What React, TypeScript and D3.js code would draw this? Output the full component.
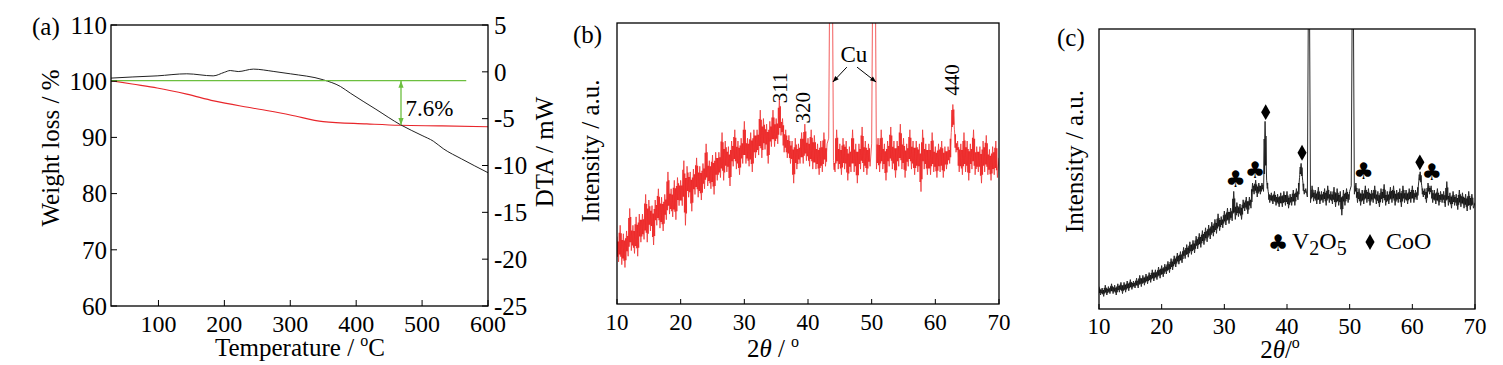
import React from 'react';
import * as d3 from 'd3';

const FONT = '"Liberation Serif", "Times New Roman", serif';

// (a) TG / DTA
const tgTemp = [28, 60, 98, 143, 184, 244, 300, 350, 416, 466, 530, 600];
const tgWeight = [100.1, 99.5, 98.8, 97.7, 96.5, 95.2, 94.0, 92.8, 92.4, 92.15, 92.05, 91.9];
const dtaTemp = [28, 60, 98, 143, 183, 200, 209, 221, 244, 274, 300, 350, 376, 391, 430, 467, 500, 517, 532, 560, 600];
const dtaValue = [-0.67, -0.55, -0.43, -0.21, -0.43, -0.05, 0.14, 0.03, 0.29, 0.05, -0.21, -0.85, -1.56, -2.27, -4.0, -5.64, -6.8, -7.4, -8.2, -9.3, -10.77];
const tempTicks = [100, 200, 300, 400, 500, 600];
const weightTicks = [60, 70, 80, 90, 100, 110];
const dtaTicks = [5, 0, -5, -10, -15, -20, -25];
const baselineWeight = 100.1;
const baselineEnd = 567;
const lossTemp = 468;
const lossWeight = 92.2;
const lossLabel = '7.6%';

// (b), (c) XRD, sampled from 10 to 70 deg every 0.25 deg
const xrdStart = 10;
const xrdStep = 0.25;
const thetaTicks = [10, 20, 30, 40, 50, 60, 70];

const xrdB = [
  24, 15, 28, 14, 25, 13, 26, 17, 34, 19, 28, 18, 31, 17, 32, 22, 32, 23, 39, 22,
  37, 26, 35, 21, 37, 28, 41, 27, 38, 26, 39, 30, 47, 32, 41, 31, 44, 30, 45, 35,
  44, 35, 51, 28, 49, 38, 47, 33, 48, 39, 52, 38, 49, 37, 50, 41, 57, 42, 51, 41,
  53, 39, 54, 44, 54, 45, 61, 44, 58, 47, 56, 42, 58, 49, 62, 48, 58, 46, 59, 50,
  65, 50, 59, 49, 61, 47, 62, 52, 62, 53, 69, 52, 66, 55, 64, 50, 65, 56, 69, 56,
  66, 57, 73, 60, 66, 54, 62, 52, 60, 50, 58, 43, 59, 48, 57, 50, 61, 50, 64, 51,
  59, 49, 62, 48, 60, 48, 57, 46, 58, 47, 61, 49, 57, 59, 150, 150, 51, 47, 62, 48,
  57, 46, 59, 48, 58, 44, 56, 47, 62, 47, 57, 43, 57, 48, 63, 47, 58, 46, 57, 49,
  57, 150, 150, 48, 59, 47, 62, 48, 57, 44, 58, 49, 63, 48, 58, 45, 58, 49, 64, 48,
  59, 45, 57, 49, 62, 48, 58, 46, 58, 47, 57, 40, 62, 48, 57, 46, 57, 46, 61, 47,
  56, 45, 57, 47, 58, 45, 56, 48, 56, 50, 61, 71, 62, 54, 58, 47, 57, 46, 61, 47,
  58, 44, 57, 48, 62, 46, 56, 47, 56, 43, 58, 47, 60, 46, 55, 44, 56, 46, 58, 45,
  52,
];

const xrdC = [
  8, 5, 7.5, 4.5, 8.5, 5, 8, 5.5, 9, 5.5, 8.5, 5, 9, 6, 9.5, 5.5, 9.5, 6, 10, 6.5,
  10.5, 7, 10, 7.5, 11, 7.5, 12, 8, 12, 8.5, 12.5, 9, 13, 9.5, 14, 10, 14, 10.5, 15, 11,
  15.5, 11.5, 16, 12.5, 17, 13, 18, 14, 19, 15, 20, 16, 20.5, 16.5, 22, 18, 23, 18.5, 24, 19.5,
  24.5, 20, 26, 21.5, 27, 22, 28, 23, 29, 24, 30, 25, 31, 26, 32, 27, 34, 28, 33, 29,
  35, 30, 36, 30.5, 36, 31.5, 42, 32, 38, 33, 37.5, 32, 39, 35, 40, 34, 40, 36, 45, 41,
  46, 40, 45, 41, 45, 42, 67, 46, 42, 38, 41.5, 37.5, 42, 37, 41, 36.5, 41.5, 36.5, 42, 37,
  42, 36, 41, 37, 42.5, 37, 43, 39, 47, 52, 46, 41, 43, 40, 150, 38, 44, 38.5, 42.5, 37.5,
  43.5, 37.5, 42, 38, 43, 37, 44, 38, 42, 37.5, 43.5, 36.5, 43, 37, 42, 33.5, 42.5, 37, 43, 38,
  42, 44, 150, 41, 45, 38, 43, 37, 42.5, 37.5, 44, 38, 43, 37, 42.5, 38, 44, 37.5, 42, 36.5,
  43, 38, 44.5, 37, 42, 37.5, 43.5, 38, 44, 37, 42.5, 38, 43, 36.5, 44, 38, 42.5, 37.5, 43, 38,
  44, 38, 42.5, 39, 45, 49, 44, 40, 43, 38, 45, 41, 44, 38, 42.5, 37.5, 43, 37, 42, 38,
  42, 36.5, 45.5, 37, 41.5, 36, 42, 37, 41, 35.5, 42.5, 36.5, 41.5, 36, 41, 35, 42, 35.5, 41, 36,
  38,
];

const peakLabelsB = ['311', '320', '440'];
const peakThetaB = [35.6, 39.2, 62.6];
const peakIntB = [76.9, 69.8, 79.7];
const cuLabelTheta = 47.2;
const cuLabelInt = 86;
const cuArrowFrom = [[46.1, 84.3], [47.7, 84.3]];
const cuArrowTo = [[43.9, 79], [50.7, 79]];

const clubTheta = [31.8, 34.9, 52.2, 63.1];
const clubInt = [46.7, 49.6, 49.3, 49.0];
const diamondTheta = [36.6, 42.4, 61.2];
const diamondInt = [70.3, 55.8, 52.4];

type Lin = d3.ScaleLinear<number, number>;

export default function App() {
  // panel (a)
  const xA = d3.scaleLinear().domain([28, 600]).range([111, 488]);
  const yAL = d3.scaleLinear().domain([60, 110]).range([306, 25]);
  const yAR = d3.scaleLinear().domain([-25, 5]).range([306, 25]);
  // panel (b)
  const xB = d3.scaleLinear().domain([10, 70]).range([617, 999]);
  const yB = d3.scaleLinear().domain([0, 100]).range([304, 23]);
  // panel (c)
  const xC = d3.scaleLinear().domain([10, 70]).range([1099, 1475]);
  const yC = d3.scaleLinear().domain([0, 100]).range([309, 29]);

  const tgPath = d3.line<number>()
    .x((_, i) => xA(tgTemp[i])).y(d => yAL(d))
    .curve(d3.curveMonotoneX)(tgWeight) as string;
  const dtaPath = d3.line<number>()
    .x((_, i) => xA(dtaTemp[i])).y(d => yAR(d))
    .curve(d3.curveMonotoneX)(dtaValue) as string;

  const xrdLine = (xs: Lin, ys: Lin, vals: number[]) =>
    d3.line<number>().x((_, i) => xs(xrdStart + i * xrdStep)).y(d => ys(d))(vals) as string;

  // solid core of the noisy trace: the middle part of each consecutive pair of readings
  const xrdCore = (xs: Lin, ys: Lin, vals: number[], inset: number) => {
    const pairs = vals.slice(0, -1).map((v, i) => [Math.min(v, vals[i + 1]), Math.max(v, vals[i + 1])]);
    return d3.area<number[]>()
      .defined(p => p[1] <= 100)
      .x((_, i) => xs(xrdStart + i * xrdStep))
      .y0(p => ys(p[0] + (p[1] - p[0]) * inset))
      .y1(p => ys(p[1] - (p[1] - p[0]) * inset))
      .curve(d3.curveStepAfter)(pairs) as string;
  };

  const ax = xA(lossTemp);
  const ayTop = yAL(baselineWeight);
  const ayBot = yAL(lossWeight);
  const green = '#6cbf3f';

  const arrowHead = (x1: number, y1: number, x2: number, y2: number, len = 7, w = 3) => {
    const a = Math.atan2(y2 - y1, x2 - x1);
    const bx = x2 - len * Math.cos(a), by = y2 - len * Math.sin(a);
    const px = -Math.sin(a) * w, py = Math.cos(a) * w;
    return `M${x2},${y2}L${bx + px},${by + py}L${bx - px},${by - py}Z`;
  };

  const diamond = d3.symbol(d3.symbolDiamond, 72)() as string;
  const clubFont = '"DejaVu Sans", sans-serif';

  return (
    <svg width={1503} height={365} style={{ position: 'absolute', left: 0, top: 0, background: '#fff' }}
      fontFamily={FONT} fill="#000">
      <defs>
        <clipPath id="clipB"><rect x={617} y={23} width={382} height={281} /></clipPath>
        <clipPath id="clipC"><rect x={1099} y={29} width={376} height={280} /></clipPath>
      </defs>

      {/* ---------- (a) ---------- */}
      <text x={32} y={35} fontSize={25}>(a)</text>
      <path d={tgPath} fill="none" stroke="#e8262b" strokeWidth={1.1} />
      <path d={dtaPath} fill="none" stroke="#222" strokeWidth={1} />
      <line x1={xA(28)} x2={xA(baselineEnd)} y1={ayTop} y2={ayTop} stroke={green} strokeWidth={1.3} />
      <line x1={ax} x2={ax} y1={ayTop} y2={ayBot} stroke={green} strokeWidth={1.3} />
      <path d={arrowHead(ax, ayBot, ax, ayTop, 7, 2.6)} fill={green} />
      <path d={arrowHead(ax, ayTop, ax, ayBot, 7, 2.6)} fill={green} />
      <text x={xA(475)} y={yAL(93.8)} fontSize={23}>{lossLabel}</text>
      <rect x={111} y={25} width={377} height={281} fill="none" stroke="#000" strokeWidth={1.3} />
      {tempTicks.map(t => (
        <g key={'ta' + t}>
          <line x1={xA(t)} x2={xA(t)} y1={306} y2={300} stroke="#000" strokeWidth={1} />
          <text x={xA(t)} y={332} fontSize={24} textAnchor="middle">{t}</text>
        </g>
      ))}
      {weightTicks.map(t => (
        <g key={'wa' + t}>
          <line x1={111} x2={117} y1={yAL(t)} y2={yAL(t)} stroke="#000" strokeWidth={1} />
          <text x={107} y={yAL(t)} dy="0.35em" fontSize={25} textAnchor="end">{t}</text>
        </g>
      ))}
      {dtaTicks.map(t => (
        <g key={'da' + t}>
          <line x1={488} x2={482} y1={yAR(t)} y2={yAR(t)} stroke="#000" strokeWidth={1} />
          <text x={494} y={yAR(t)} dy="0.35em" fontSize={25}>{t < 0 ? '-' + Math.abs(t) : t}</text>
        </g>
      ))}
      <text transform="translate(59,148) rotate(-90)" fontSize={25} textAnchor="middle">Weight loss / %</text>
      <text transform="translate(553,152) rotate(-90)" fontSize={25} textAnchor="middle">DTA / mW</text>
      <text x={300} y={356} fontSize={25} textAnchor="middle">
        Temperature / <tspan fontSize={16} dy={-10}>o</tspan><tspan dy={10}>C</tspan>
      </text>

      {/* ---------- (b) ---------- */}
      <text x={573} y={43} fontSize={25}>(b)</text>
      <g clipPath="url(#clipB)">
        <path d={xrdCore(xB, yB, xrdB, 0.2)} fill="#ec2a2a" />
        <path d={xrdLine(xB, yB, xrdB)} fill="none" stroke="#ef3535" strokeWidth={1} strokeOpacity={0.8} />
      </g>
      {peakLabelsB.map((l, i) => (
        <text key={l} transform={`translate(${xB(peakThetaB[i])},${yB(peakIntB[i])}) rotate(-90)`}
          dy="0.35em" fontSize={21} textAnchor="middle">{l}</text>
      ))}
      <text x={xB(cuLabelTheta)} y={yB(cuLabelInt)} fontSize={23} textAnchor="middle">Cu</text>
      {cuArrowFrom.map((f, i) => {
        const x1 = xB(f[0]), y1 = yB(f[1]), x2 = xB(cuArrowTo[i][0]), y2 = yB(cuArrowTo[i][1]);
        return (
          <g key={'cu' + i}>
            <line x1={x1} y1={y1} x2={x2} y2={y2} stroke="#000" strokeWidth={1} />
            <path d={arrowHead(x1, y1, x2, y2, 6, 2.4)} fill="#000" />
          </g>
        );
      })}
      <rect x={617} y={23} width={382} height={281} fill="none" stroke="#000" strokeWidth={1.3} />
      {thetaTicks.map(t => (
        <g key={'tb' + t}>
          <line x1={xB(t)} x2={xB(t)} y1={304} y2={299} stroke="#000" strokeWidth={1} />
          <text x={xB(t)} y={330} fontSize={23} textAnchor="middle">{t}</text>
        </g>
      ))}
      <text transform="translate(599,151) rotate(-90)" fontSize={25} textAnchor="middle">Intensity / a.u.</text>
      <text x={773} y={357} fontSize={25} textAnchor="middle">
        2<tspan fontStyle="italic">θ</tspan> / <tspan fontSize={16} dy={-10}>o</tspan>
      </text>

      {/* ---------- (c) ---------- */}
      <text x={1057} y={46} fontSize={25}>(c)</text>
      <g clipPath="url(#clipC)">
        <path d={xrdCore(xC, yC, xrdC, 0.25)} fill="#111" />
        <path d={xrdLine(xC, yC, xrdC)} fill="none" stroke="#2a2a2a" strokeWidth={1} />
      </g>
      {clubTheta.map((t, i) => (
        <text key={'cl' + i} x={xC(t)} y={yC(clubInt[i])} dy="0.36em" fontSize={23}
          fontFamily={clubFont} textAnchor="middle">♣</text>
      ))}
      {diamondTheta.map((t, i) => (
        <path key={'dm' + i} d={diamond} transform={`translate(${xC(t)},${yC(diamondInt[i])})`} fill="#000" />
      ))}
      <text x={1278} y={243} dy="0.36em" fontSize={23} fontFamily={clubFont} textAnchor="middle">♣</text>
      <text x={1292} y={249} fontSize={24}>
        V<tspan fontSize={20} dy={6}>2</tspan><tspan dy={-6}>O</tspan><tspan fontSize={20} dy={6}>5</tspan>
      </text>
      <path d={diamond} transform="translate(1370,242)" fill="#000" />
      <text x={1386} y={249} fontSize={24}>CoO</text>
      <rect x={1099} y={29} width={376} height={280} fill="none" stroke="#000" strokeWidth={1.3} />
      {thetaTicks.map(t => (
        <g key={'tc' + t}>
          <line x1={xC(t)} x2={xC(t)} y1={309} y2={304} stroke="#000" strokeWidth={1} />
          <text x={xC(t)} y={334} fontSize={23} textAnchor="middle">{t}</text>
        </g>
      ))}
      <text transform="translate(1083,161.5) rotate(-90)" fontSize={25} textAnchor="middle">Intensity / a.u.</text>
      <text x={1280} y={358} fontSize={25} textAnchor="middle">
        2<tspan fontStyle="italic">θ</tspan>/<tspan fontSize={16} dy={-10}>o</tspan>
      </text>
    </svg>
  );
}
